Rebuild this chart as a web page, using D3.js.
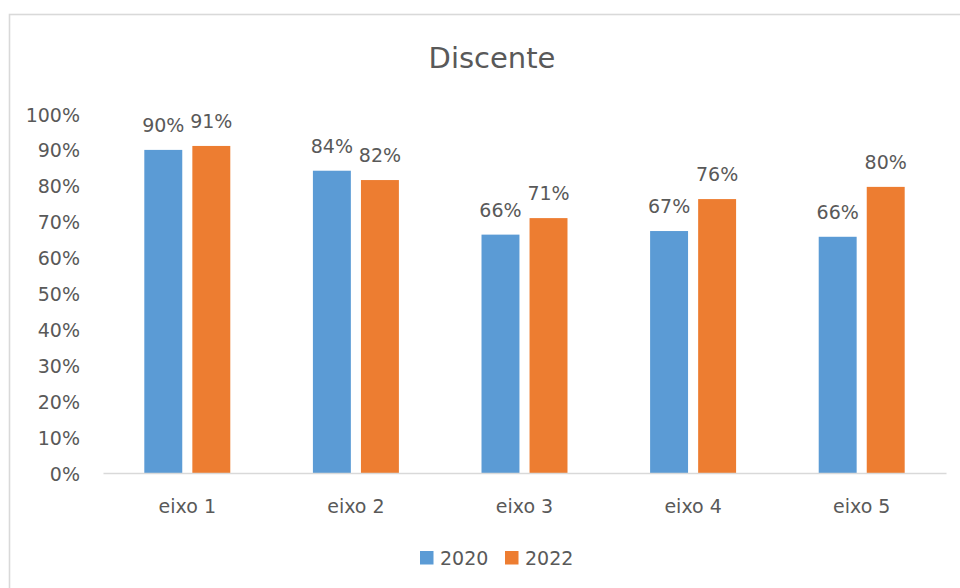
<!DOCTYPE html>
<html>
<head>
<meta charset="utf-8">
<script src="https://cdn.jsdelivr.net/npm/d3@7"></script>
<style>
  html, body { margin: 0; padding: 0; background: #fff; }
  svg { display: block; font-family: "DejaVu Sans", sans-serif; }
</style>
</head>
<body>
<svg id="chart" width="960" height="588"></svg>
<script>
// Chart data
const categories = ["eixo 1", "eixo 2", "eixo 3", "eixo 4", "eixo 5"];
const seriesNames = ["2020", "2022"];
const values2020 = [0.90, 0.842, 0.664, 0.674, 0.658];
const values2022 = [0.911, 0.816, 0.71, 0.763, 0.797];
const yTicks = [0, 0.1, 0.2, 0.3, 0.4, 0.5, 0.6, 0.7, 0.8, 0.9, 1.0];
const colors = ["#5B9BD5", "#ED7D31"];
const titleText = "Discente";

const seriesValues = [values2020, values2022];
const rows = categories.map((c, i) => ({
  category: c,
  values: seriesNames.map((s, j) => ({ series: s, value: seriesValues[j][i], color: colors[j] }))
}));

const svg = d3.select("#chart");
const textColor = "#595959";
const labelSize = 19;
const fmt = d3.format(".0%");

// Outer chart frame
svg.append("rect")
  .attr("x", 9.5).attr("y", 14.5)
  .attr("width", 1000).attr("height", 700)
  .attr("fill", "#fff")
  .attr("stroke", "#d9d9d9")
  .attr("stroke-width", 1.6);

// Plot area
const plot = { left: 103, right: 946, top: 114, bottom: 473 };

const x = d3.scaleBand()
  .domain(categories)
  .range([plot.left, plot.right])
  .paddingInner(0.49)
  .paddingOuter(0.245);

const xInner = d3.scaleBand()
  .domain(seriesNames)
  .range([0, x.bandwidth()])
  .paddingInner(0.21);

const y = d3.scaleLinear()
  .domain([0, 1])
  .range([plot.bottom, plot.top]);

// Title
svg.append("text")
  .attr("x", 492).attr("y", 68)
  .attr("text-anchor", "middle")
  .attr("font-size", 29)
  .attr("fill", textColor)
  .text(titleText);

// Y axis labels
const yAxis = d3.axisLeft(y)
  .tickValues(yTicks)
  .tickFormat(fmt)
  .tickSize(0)
  .tickPadding(23);

const yG = svg.append("g")
  .attr("transform", `translate(${plot.left},0)`)
  .call(yAxis);
yG.select(".domain").remove();
yG.selectAll("text")
  .attr("font-family", "DejaVu Sans, sans-serif")
  .attr("font-size", labelSize)
  .attr("fill", textColor)
  .attr("dy", "0.37em");

// Bars
const groups = svg.append("g")
  .selectAll("g")
  .data(rows)
  .join("g")
  .attr("transform", d => `translate(${x(d.category)},0)`);

groups.selectAll("rect")
  .data(d => d.values)
  .join("rect")
  .attr("x", d => xInner(d.series))
  .attr("y", d => y(d.value))
  .attr("width", xInner.bandwidth())
  .attr("height", d => y(0) - y(d.value))
  .attr("fill", d => d.color);

// Value labels
groups.selectAll("text.val")
  .data(d => d.values)
  .join("text")
  .attr("class", "val")
  .attr("x", d => xInner(d.series) + xInner.bandwidth() / 2)
  .attr("y", d => y(d.value) - 18)
  .attr("text-anchor", "middle")
  .attr("font-size", labelSize)
  .attr("fill", textColor)
  .text(d => fmt(d.value));

// X axis
const xAxis = d3.axisBottom(x).tickSize(0).tickPadding(0);
const xG = svg.append("g")
  .attr("transform", `translate(0,${plot.bottom})`)
  .call(xAxis);
xG.select(".domain")
  .attr("stroke", "#d9d9d9")
  .attr("stroke-width", 1.4);
xG.selectAll("text")
  .attr("font-family", "DejaVu Sans, sans-serif")
  .attr("font-size", labelSize)
  .attr("fill", textColor)
  .attr("y", 39.5)
  .attr("dy", 0);

// Legend
const legendItems = [
  { name: seriesNames[0], color: colors[0], x: 420 },
  { name: seriesNames[1], color: colors[1], x: 505 }
];
const legend = svg.append("g");
legendItems.forEach(item => {
  legend.append("rect")
    .attr("x", item.x).attr("y", 551)
    .attr("width", 13.5).attr("height", 13.5)
    .attr("fill", item.color);
  legend.append("text")
    .attr("x", item.x + 20).attr("y", 565)
    .attr("font-size", labelSize)
    .attr("fill", textColor)
    .text(item.name);
});
</script>
</body>
</html>
